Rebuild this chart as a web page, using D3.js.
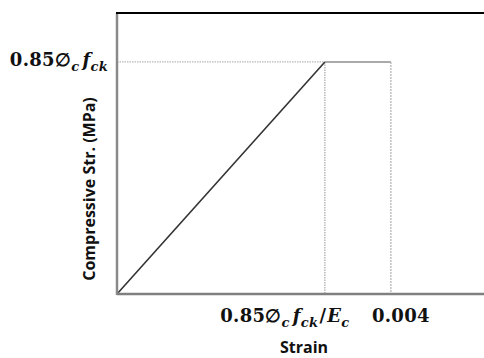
<!DOCTYPE html>
<html>
<head>
<meta charset="utf-8">
<script src="https://cdn.jsdelivr.net/npm/d3@7"></script>
<style>
  html, body { margin: 0; padding: 0; background: #fff; }
  svg { display: block; }
</style>
</head>
<body>
<svg id="chart" width="484" height="358"></svg>
<script>
// Idealised concrete stress-strain block: linear rise, then flat at 0.85·φc·fck
const strain = [0, 0.003036, 0.004];        // strain at origin, at peak, ultimate
const stress = [0, 1, 1];                   // normalised to 0.85·φc·fck
const strainDomain = [0, 0.00536];
const stressDomain = [0, 1.211];
const xTickValues = [0.003036, 0.004];
const xTickOffsets = [-40, 10];
const yTickValues = [1];

const svg = d3.select("#chart");
const W = 484, H = 358;
const m = { left: 117, right: 0, top: 13, bottom: 64 };

const x = d3.scaleLinear().domain(strainDomain).range([m.left, W - m.right]);
const y = d3.scaleLinear().domain(stressDomain).range([H - m.bottom, m.top]);

const peak = { x: x(strain[1]), y: y(stress[1]) };
const ult = { x: x(strain[2]), y: y(stress[2]) };

// guide lines
svg.append("line")
  .attr("x1", x(0)).attr("x2", peak.x).attr("y1", peak.y).attr("y2", peak.y)
  .attr("stroke", "#b8b8b8").attr("stroke-width", 1.2).attr("stroke-dasharray", "1.5,1");
svg.append("line")
  .attr("x1", peak.x).attr("x2", peak.x).attr("y1", peak.y).attr("y2", y(0))
  .attr("stroke", "#a8a8a8").attr("stroke-width", 1.2).attr("stroke-dasharray", "1.5,1");
svg.append("line")
  .attr("x1", ult.x).attr("x2", ult.x).attr("y1", ult.y).attr("y2", y(0))
  .attr("stroke", "#b0b0b0").attr("stroke-width", 1.2).attr("stroke-dasharray", "2,1");

// flat plateau
svg.append("line")
  .attr("x1", peak.x).attr("x2", ult.x).attr("y1", peak.y).attr("y2", ult.y)
  .attr("stroke", "#aaaaaa").attr("stroke-width", 2);

// linear rising branch
const line = d3.line().x((d, i) => x(strain[i])).y((d, i) => y(stress[i]));
svg.append("path")
  .datum(strain.slice(0, 2))
  .attr("d", line)
  .attr("fill", "none").attr("stroke", "#333").attr("stroke-width", 1.6);

// frame: left & bottom axes grey, top black
svg.append("line")
  .attr("x1", x(0)).attr("x2", x(0)).attr("y1", y(stressDomain[1])).attr("y2", y(0) + 1)
  .attr("stroke", "#8a8a8a").attr("stroke-width", 2.5);
svg.append("line")
  .attr("x1", x(0)).attr("x2", W).attr("y1", y(0)).attr("y2", y(0))
  .attr("stroke", "#808080").attr("stroke-width", 2.5);
svg.append("line")
  .attr("x1", x(0) - 1).attr("x2", W).attr("y1", y(stressDomain[1])).attr("y2", y(stressDomain[1]))
  .attr("stroke", "#000").attr("stroke-width", 2);

// math-style labels
function mathLabel(g, parts) {
  const t = g.append("text")
    .attr("font-family", "'DejaVu Serif', serif")
    .attr("font-weight", "bold")
    .attr("font-size", 18)
    .attr("letter-spacing", 0.3)
    .attr("fill", "#111");
  parts.forEach(p => {
    const s = t.append("tspan").text(p.t);
    if (p.i) s.attr("font-style", "italic");
    if (p.sub) s.attr("font-size", 13).attr("dy", 5);
    if (p.up) s.attr("dy", -5);
    if (p.dx) s.attr("dx", p.dx);
  });
  return t;
}

// y tick label
mathLabel(svg, [
  { t: "0.85∅" },
  { t: "c", i: true, sub: true },
  { t: "f", i: true, up: true, dx: 3 },
  { t: "ck", i: true, sub: true }
]).attr("x", 108).attr("y", y(yTickValues[0]) + 4).attr("text-anchor", "end");

// x tick labels
mathLabel(svg, [
  { t: "0.85∅" },
  { t: "c", i: true, sub: true },
  { t: "f", i: true, up: true, dx: 3 },
  { t: "ck", i: true, sub: true },
  { t: "/", up: true, dx: 1 },
  { t: "E", i: true, dx: 1 },
  { t: "c", i: true, sub: true }
]).attr("x", x(xTickValues[0]) + xTickOffsets[0]).attr("y", 322).attr("text-anchor", "middle");

mathLabel(svg, [{ t: "0.004" }])
  .attr("x", x(xTickValues[1]) + xTickOffsets[1]).attr("y", 322).attr("text-anchor", "middle");

// axis titles
svg.append("text")
  .attr("x", 304).attr("y", 353)
  .attr("text-anchor", "middle")
  .attr("font-family", "'Open Sans', sans-serif")
  .attr("font-weight", "bold").attr("font-size", 16)
  .attr("fill", "#111")
  .text("Strain");

svg.append("text")
  .attr("transform", "translate(95,189) rotate(-90)")
  .attr("text-anchor", "middle")
  .attr("font-family", "'Open Sans', sans-serif")
  .attr("font-weight", "bold").attr("font-size", 16)
  .attr("fill", "#111")
  .text("Compressive Str. (MPa)");
</script>
</body>
</html>
